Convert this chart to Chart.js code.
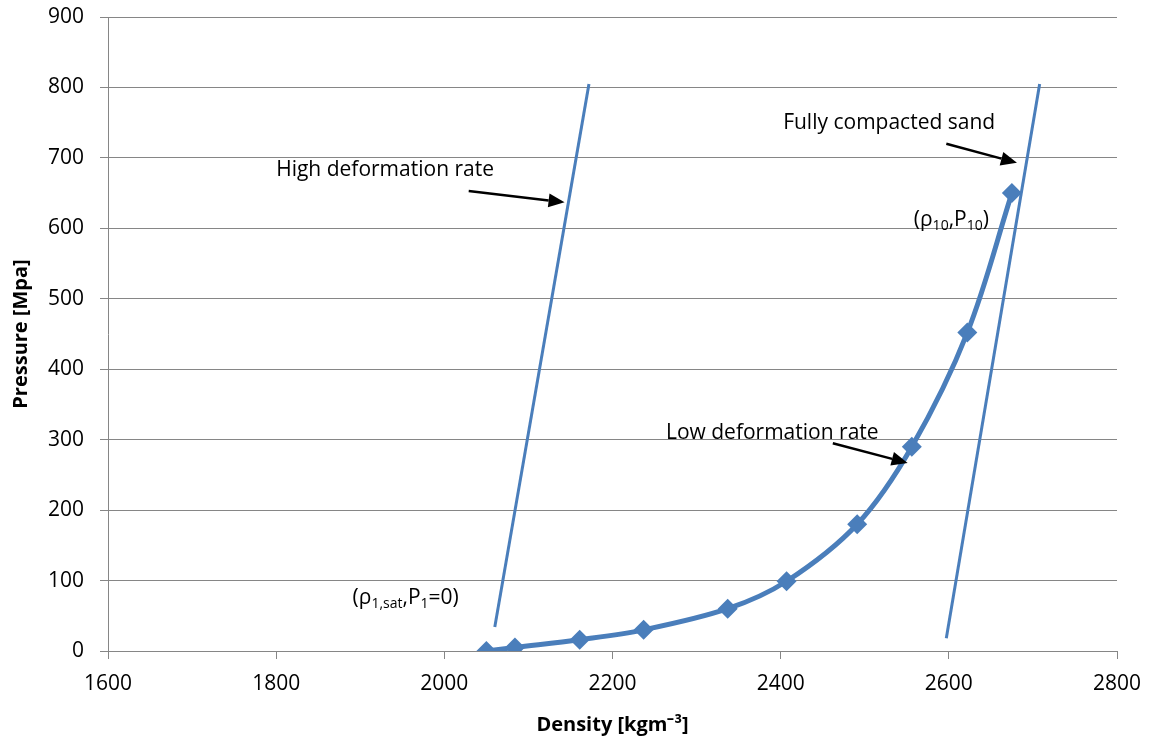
<!DOCTYPE html>
<html>
<head>
<meta charset="utf-8">
<script src="https://cdn.jsdelivr.net/npm/chart.js@4.4.1/dist/chart.umd.min.js"></script>
<style>
  html, body { margin: 0; padding: 0; background: #fff; }
  #wrap { width: 1153px; height: 739px; position: relative; }
</style>
</head>
<body>
<div id="wrap"><canvas id="c"></canvas></div>
<script>
// compaction curve values
const density  = [2050, 2084, 2161, 2237, 2337, 2407, 2491, 2556, 2622, 2675];
const pressure = [0, 5, 16, 30, 60, 99, 180, 290, 452, 650];

// the two straight deformation-rate lines
const highRateDensity  = [2060, 2172];
const highRatePressure = [34, 805];
const lowRateDensity   = [2597, 2708];
const lowRatePressure  = [18, 805];

const xTicks = [1600, 1800, 2000, 2200, 2400, 2600, 2800];
const yTicks = [0, 100, 200, 300, 400, 500, 600, 700, 800, 900];

const BLUE = '#4a7ebb';
const GRID = '#868686';
const FONT = "'Open Sans', sans-serif";

const pts = (xs, ys) => xs.map((x, i) => ({ x, y: ys[i] }));

// labels + arrows, given in data units
const notes = [
  { runs: [['High deformation rate']], x: 1800, y: 683, align: 'left' },
  { runs: [['Fully compacted sand']], x: 2529, y: 750, align: 'center' },
  { runs: [['Low deformation rate']], x: 2390, y: 310, align: 'center' },
  { runs: [['(ρ'], ['10', 1], [',P'], ['10', 1], [')']], x: 2603, y: 612, align: 'center' },
  { runs: [['(ρ'], ['1,sat', 1], [',P'], ['1', 1], ['=0)']], x: 1954, y: 75, align: 'center' },
];
const arrows = [
  { from: [2029, 653], to: [2143, 637] },
  { from: [2597, 720], to: [2681, 693] },
  { from: [2462, 295], to: [2551, 267] },
];

const notesPlugin = {
  id: 'notes',
  afterDatasetsDraw(chart) {
    const { ctx, scales: { x, y } } = chart;
    ctx.save();
    ctx.fillStyle = '#000';
    ctx.strokeStyle = '#000';
    ctx.textBaseline = 'middle';
    notes.forEach(n => {
      const big = '21px ' + FONT, small = '14px ' + FONT;
      let w = 0;
      n.runs.forEach(([t, sub]) => { ctx.font = sub ? small : big; w += ctx.measureText(t).width; });
      let px = x.getPixelForValue(n.x);
      const py = y.getPixelForValue(n.y);
      if (n.align === 'center') px -= w / 2;
      ctx.textAlign = 'left';
      n.runs.forEach(([t, sub]) => {
        ctx.font = sub ? small : big;
        ctx.fillText(t, px, sub ? py + 6 : py);
        px += ctx.measureText(t).width;
      });
    });
    arrows.forEach(a => {
      const x0 = x.getPixelForValue(a.from[0]), y0 = y.getPixelForValue(a.from[1]);
      const x1 = x.getPixelForValue(a.to[0]),   y1 = y.getPixelForValue(a.to[1]);
      const ang = Math.atan2(y1 - y0, x1 - x0);
      const hl = 16, hw = 7;
      const bx = x1 - hl * Math.cos(ang), by = y1 - hl * Math.sin(ang);
      ctx.lineWidth = 2.5;
      ctx.beginPath(); ctx.moveTo(x0, y0); ctx.lineTo(bx, by); ctx.stroke();
      ctx.beginPath();
      ctx.moveTo(x1, y1);
      ctx.lineTo(bx + hw * Math.sin(ang), by - hw * Math.cos(ang));
      ctx.lineTo(bx - hw * Math.sin(ang), by + hw * Math.cos(ang));
      ctx.closePath(); ctx.fill();
    });
    ctx.restore();
  }
};

new Chart(document.getElementById('c'), {
  type: 'scatter',
  plugins: [notesPlugin],
  data: {
    datasets: [
      {
        data: pts(density, pressure),
        showLine: true,
        borderColor: BLUE, backgroundColor: BLUE,
        borderWidth: 5,
        tension: 0.35,
        pointStyle: 'rectRot', pointRadius: 10, pointBorderWidth: 0,
        order: 2,
      },
      {
        data: pts(highRateDensity, highRatePressure),
        showLine: true, borderColor: BLUE, borderWidth: 3, pointRadius: 0, order: 1,
      },
      {
        data: pts(lowRateDensity, lowRatePressure),
        showLine: true, borderColor: BLUE, borderWidth: 3, pointRadius: 0, order: 1,
      },
    ]
  },
  options: {
    responsive: true,
    maintainAspectRatio: false,
    animation: false,
    layout: { padding: { top: 17, right: 36, left: 0, bottom: 0 } },
    plugins: { legend: { display: false }, tooltip: { enabled: false } },
    scales: {
      x: {
        type: 'linear', min: 1600, max: 2800,
        afterBuildTicks: s => { s.ticks = xTicks.map(v => ({ value: v })); },
        afterFit: s => { s.height = 88; s.paddingLeft = 0; s.paddingRight = 0; },
        grid: { drawOnChartArea: false, drawTicks: true, tickLength: 8, color: GRID },
        border: { color: GRID, width: 1 },
        ticks: { color: '#000', font: { family: FONT, size: 21 }, padding: 12, maxRotation: 0, callback: v => String(v) },
        title: { display: true, text: 'Density [kgm⁻³]', color: '#000', font: { family: FONT, size: 20, weight: 'bold' }, padding: { top: 0, bottom: 2 } },
      },
      y: {
        type: 'linear', min: 0, max: 900,
        afterBuildTicks: s => { s.ticks = yTicks.map(v => ({ value: v })); },
        afterFit: s => { s.width = 108; s.paddingTop = 0; s.paddingBottom = 0; },
        grid: { color: GRID, lineWidth: 1, tickLength: 8 },
        border: { color: GRID, width: 1 },
        ticks: { color: '#000', font: { family: FONT, size: 21 }, padding: 16, callback: v => String(v) },
        title: { display: true, text: 'Pressure [Mpa]', color: '#000', font: { family: FONT, size: 20, weight: 'bold' }, padding: { top: 9, bottom: 0 } },
      }
    }
  }
});
</script>
</body>
</html>
